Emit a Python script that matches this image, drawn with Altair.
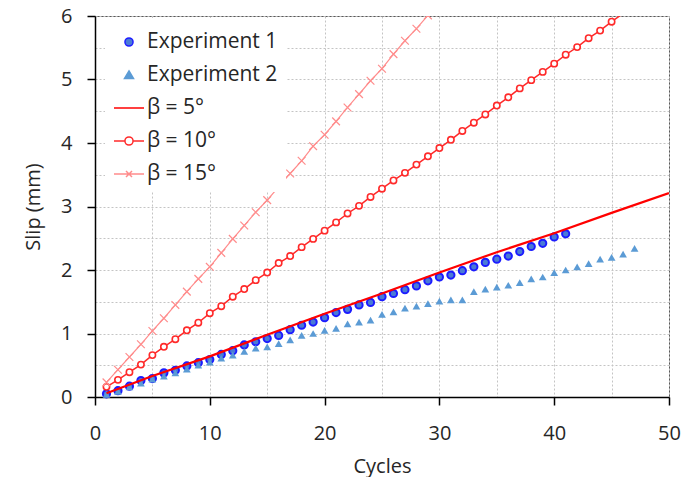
import altair as alt
import pandas as pd

# ---------------- data ----------------
series_names = ["Experiment 1", "Experiment 2", "β = 5°", "β = 10°", "β = 15°"]

exp1_cycles = list(range(1, 42))
exp1_slip = [0.05, 0.10, 0.17, 0.26, 0.29, 0.38, 0.42, 0.49, 0.54, 0.59,
             0.67, 0.73, 0.82, 0.87, 0.92, 0.97, 1.06, 1.13, 1.18, 1.25,
             1.33, 1.38, 1.45, 1.49, 1.58, 1.63, 1.69, 1.75, 1.83, 1.89,
             1.92, 1.99, 2.05, 2.12, 2.17, 2.22, 2.29, 2.37, 2.42, 2.52, 2.57]

exp2_cycles = list(range(1, 48))
exp2_slip = [0.04, 0.09, 0.16, 0.22, 0.28, 0.33, 0.38, 0.44, 0.50, 0.55,
             0.61, 0.66, 0.72, 0.77, 0.79, 0.84, 0.90, 0.97, 1.00, 1.05,
             1.08, 1.15, 1.18, 1.21, 1.30, 1.34, 1.40, 1.43, 1.47, 1.51,
             1.53, 1.53, 1.66, 1.70, 1.73, 1.76, 1.80, 1.86, 1.89, 1.96,
             2.00, 2.05, 2.10, 2.17, 2.20, 2.25, 2.34]

beta5_cycles = [1, 5, 10, 15, 20, 25, 30, 35, 40, 45, 50]
beta5_slip = [0.06, 0.33, 0.64, 0.98, 1.31, 1.63, 1.96, 2.28, 2.58, 2.90, 3.21]

beta10_cycles = list(range(1, 47))
beta10_slip = [0.16, 0.27, 0.39, 0.51, 0.66, 0.79, 0.91, 1.05, 1.17, 1.32,
               1.43, 1.58, 1.70, 1.84, 1.96, 2.11, 2.22, 2.36, 2.49, 2.62,
               2.75, 2.89, 3.01, 3.15, 3.28, 3.41, 3.53, 3.66, 3.79, 3.92,
               4.05, 4.19, 4.32, 4.45, 4.59, 4.72, 4.86, 4.99, 5.12, 5.25,
               5.39, 5.51, 5.65, 5.77, 5.91, 6.04]

beta15_cycles = list(range(1, 30))
beta15_slip = [0.23, 0.43, 0.63, 0.83, 1.04, 1.24, 1.45, 1.66, 1.86, 2.05,
               2.27, 2.49, 2.70, 2.91, 3.10, 3.31, 3.52, 3.72, 3.95, 4.13,
               4.34, 4.56, 4.77, 4.98, 5.17, 5.40, 5.61, 5.80, 6.01]

x_tick_values = [0, 5, 10, 15, 20, 25, 30, 35, 40, 45, 50]
y_tick_values = [0, 0.5, 1, 1.5, 2, 2.5, 3, 3.5, 4, 4.5, 5, 5.5, 6]

# ---------------- styling ----------------
FONT = "Open Sans"
TEXT = "#262626"
GRID = "#c4c4c4"

C_EXP1_FILL = "#4a7ad6"
C_EXP1_EDGE = "#1c1cff"
C_EXP2 = "#5b9bd5"
C_B5 = "#ff0000"
C_B10 = "#ff2a2a"
C_B15 = "#ff8c8c"

legend_shapes = [
    "M-0.27,0A0.27,0.27,0,1,1,0.27,0A0.27,0.27,0,1,1,-0.27,0Z",
    "M0,-0.27L0.3,0.23L-0.3,0.23Z",
    "M-1,0L1,0",
    "M-1,0L-0.27,0M0.27,0L1,0M-0.27,0A0.27,0.27,0,1,1,0.27,0A0.27,0.27,0,1,1,-0.27,0Z",
    "M-1,0L1,0M-0.2,-0.2L0.2,0.2M-0.2,0.2L0.2,-0.2",
]
legend_fills = [C_EXP1_FILL, C_EXP2, "transparent", "white", "transparent"]
legend_strokes = [C_EXP1_EDGE, C_EXP2, C_B5, C_B10, C_B15]


def frame(cycles, slip):
    return pd.DataFrame({"cycle": cycles, "slip": slip})


x_enc = alt.X(
    "cycle:Q",
    title="Cycles",
    scale=alt.Scale(domain=[0, 50], nice=False, zero=False),
    axis=alt.Axis(
        values=x_tick_values,
        labelExpr="datum.value % 10 === 0 ? format(datum.value, 'd') : ''",
        grid=True, gridColor=GRID, gridDash=[2, 2], gridWidth=1,
        domainColor="black", domainWidth=1.5,
        tickColor={"condition": {"test": "datum.value % 10 === 0", "value": "black"},
                   "value": "transparent"},
        tickSize=8, tickWidth=1.5,
        labelFont=FONT, labelFontSize=20, labelColor=TEXT, labelPadding=18,
        labelFlush=False, labelOverlap=False,
        titleFont=FONT, titleFontSize=20, titleFontWeight="normal",
        titleColor=TEXT, titlePadding=13,
    ),
)

y_enc = alt.Y(
    "slip:Q",
    title="Slip (mm)",
    scale=alt.Scale(domain=[0, 6], nice=False),
    axis=alt.Axis(
        values=y_tick_values,
        labelExpr="datum.value % 1 === 0 ? format(datum.value, 'd') : ''",
        grid=True, gridColor=GRID, gridDash=[2, 2], gridWidth=1,
        domainColor="black", domainWidth=1.5,
        tickColor={"condition": {"test": "datum.value % 1 === 0", "value": "black"},
                   "value": "transparent"},
        tickSize=8, tickWidth=1.5,
        labelFont=FONT, labelFontSize=20, labelColor=TEXT, labelPadding=15,
        labelFlush=False, labelOverlap=False,
        titleFont=FONT, titleFontSize=20, titleFontWeight="normal",
        titleColor=TEXT, titlePadding=17,
    ),
)

exp1 = alt.Chart(frame(exp1_cycles, exp1_slip)).mark_point(
    shape="circle", filled=True, size=52, fill=C_EXP1_FILL,
    stroke=C_EXP1_EDGE, strokeWidth=2, opacity=1,
).encode(x=x_enc, y=y_enc)

exp2 = alt.Chart(frame(exp2_cycles, exp2_slip)).mark_point(
    shape="triangle-up", filled=True, size=60, color=C_EXP2, opacity=1,
).encode(x=x_enc, y=y_enc)

beta5 = alt.Chart(frame(beta5_cycles, beta5_slip)).mark_line(
    color=C_B5, strokeWidth=2.2, clip=True,
).encode(x=x_enc, y=y_enc)

beta10_line = alt.Chart(frame(beta10_cycles, beta10_slip)).mark_line(
    color=C_B10, strokeWidth=1.5, clip=True,
).encode(x=x_enc, y=y_enc)

beta10_pts = alt.Chart(frame(beta10_cycles, beta10_slip)).transform_filter(
    "datum.slip <= 6"
).mark_point(
    shape="circle", filled=True, fill="white", stroke=C_B10,
    strokeWidth=1.6, size=40, opacity=1,
).encode(x=x_enc, y=y_enc)

beta15_line = alt.Chart(frame(beta15_cycles, beta15_slip)).mark_line(
    color=C_B15, strokeWidth=1.2, clip=True,
).encode(x=x_enc, y=y_enc)

beta15_pts = alt.Chart(frame(beta15_cycles, beta15_slip)).mark_point(
    shape="M-1,-1L1,1M-1,1L1,-1", filled=False, stroke=C_B15,
    strokeWidth=1.2, size=60, opacity=1, clip=True,
).encode(x=x_enc, y=y_enc)

leg = alt.Legend(
    title=None, orient="none", legendX=10, legendY=2,
    fillColor="white", padding=8,
    symbolSize=900, symbolStrokeWidth=1.5,
    symbolFillColor="white", symbolStrokeColor="black", symbolOpacity=1,
    labelFont=FONT, labelFontSize=21, labelColor=TEXT, labelOffset=2,
    labelLimit=300, rowPadding=7,
)

legend_layer = alt.Chart(pd.DataFrame({"series": series_names})).transform_filter(
    "false"
).mark_point(opacity=1).encode(
    shape=alt.Shape("series:N", scale=alt.Scale(domain=series_names, range=legend_shapes), legend=leg),
    fill=alt.Fill("series:N", scale=alt.Scale(domain=series_names, range=legend_fills), legend=leg),
    stroke=alt.Stroke("series:N", scale=alt.Scale(domain=series_names, range=legend_strokes), legend=leg),
)

chart = alt.layer(
    exp1, exp2, beta5, beta10_line, beta10_pts, beta15_line, beta15_pts, legend_layer
).properties(
    width=574, height=381,
    autosize=alt.AutoSizeParams(type="none"),
    padding={"left": 87, "top": 8, "right": 12, "bottom": 80},
    background="white",
).configure_view(stroke="#595959", strokeWidth=1)

chart.save("out.html", embed_options={"renderer": "svg", "actions": False})
